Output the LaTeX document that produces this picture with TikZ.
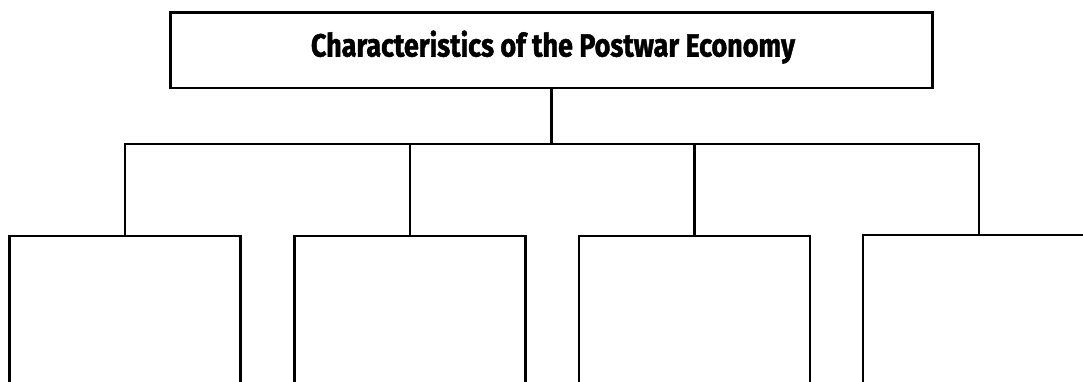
\documentclass[tikz,border=0pt]{standalone}
\usepackage{fontspec}
\usepackage{graphicx}
\newfontfamily\titlefont{Fira Sans}[BoldFeatures={FakeBold=1.6}]
\tikzset{
  line/.style={line width=2.4pt, line join=miter, line cap=rect},
  topbox/.style={draw, line width=2.4pt, minimum width=762pt, minimum height=75.5pt, inner sep=0pt},
  lowbox/.style={draw, line width=2.4pt, minimum width=231pt, minimum height=300pt, inner sep=0pt, anchor=north},
}
\begin{document}
\begin{tikzpicture}[x=1pt,y=-1pt]
\useasboundingbox (0,0) rectangle (1083,381);
\node[topbox] (top) at (551.5,50.4) {};
\node[anchor=base, inner sep=0pt] (title) at (553,56.5)
  {\resizebox{484pt}{26pt}{\titlefont\bfseries Characteristics of the Postwar Economy}};
\node[lowbox] (b1) at (125,235) {};
\node[lowbox] (b2) at (410,235) {};
\node[lowbox] (b3) at (694.5,235) {};
\coordinate (b4) at (863,235);
\coordinate (b4end) at (1100,235);
\draw[line] (863,390) -- (b4) -- (b4end);
\coordinate (bus) at (551.5,144);
\coordinate (j4) at (979,144);
\draw[line] (top.south) -- (bus);
\draw[line] (b1.north) -- (b1.north |- bus) -- (j4) -- (j4 |- b4);
\draw[line] (b2.north) -- (b2.north |- bus);
\draw[line] (b3.north) -- (b3.north |- bus);
\end{tikzpicture}
\end{document}
